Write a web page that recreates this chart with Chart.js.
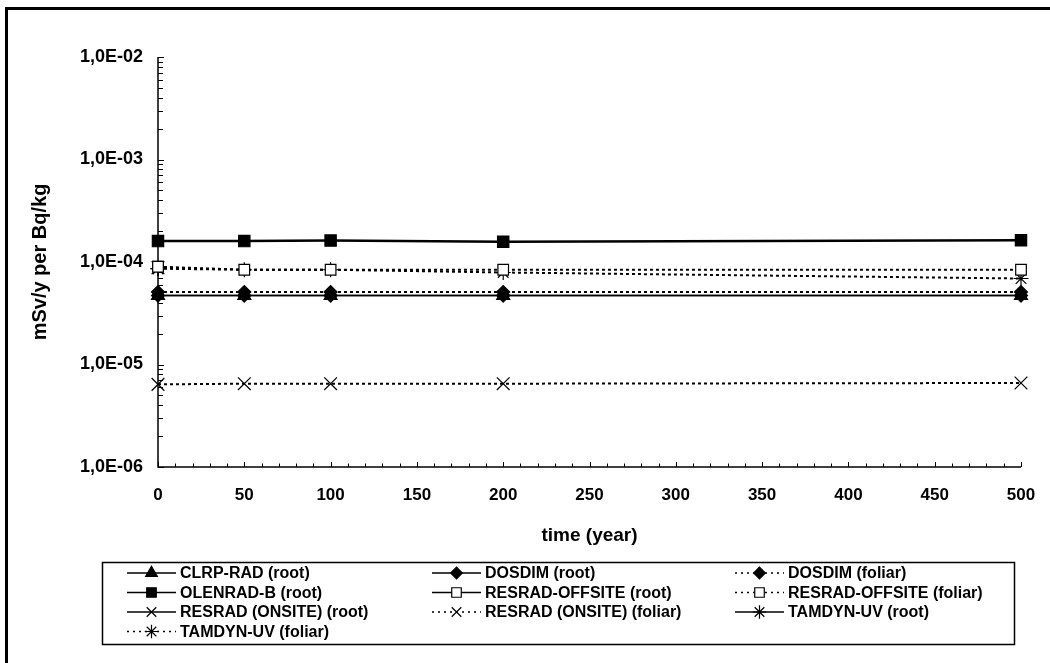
<!DOCTYPE html>
<html>
<head>
<meta charset="utf-8">
<script src="https://cdn.jsdelivr.net/npm/chart.js@4/dist/chart.umd.min.js"></script>
<style>
  html, body { margin: 0; padding: 0; background: #fff; }
  #wrap { width: 1050px; height: 663px; }
</style>
</head>
<body>
<div id="wrap"><canvas id="c" width="1050" height="663"></canvas></div>
<script>
// Sampling times (years)
const times = [0, 50, 100, 200, 500];

// Dose conversion per model and pathway (mSv/y per Bq/kg)
const clrpRoot       = [4.7e-5, 4.7e-5, 4.7e-5, 4.7e-5, 4.7e-5];
const dosdimRoot     = [4.7e-5, 4.7e-5, 4.7e-5, 4.7e-5, 4.7e-5];
const dosdimFoliar   = [5.1e-5, 5.1e-5, 5.1e-5, 5.1e-5, 5.1e-5];
const olenradRoot    = [1.60e-4, 1.60e-4, 1.62e-4, 1.58e-4, 1.63e-4];
const offsiteRoot    = [9.0e-5, null, null, null, null];
const offsiteFoliar  = [9.0e-5, 8.4e-5, 8.4e-5, 8.4e-5, 8.4e-5];
const onsiteRoot     = [8.8e-5, null, null, null, null];
const onsiteFoliar   = [6.4e-6, 6.5e-6, 6.5e-6, 6.5e-6, 6.6e-6];
const tamdynRoot     = [8.6e-5, null, null, null, null];
const tamdynFoliar   = [8.6e-5, 8.4e-5, 8.4e-5, 7.9e-5, 6.9e-5];

// Y axis decades
const yDecades = [1e-6, 1e-5, 1e-4, 1e-3, 1e-2];

const seriesLabels = [
  'CLRP-RAD (root)', 'DOSDIM (root)', 'DOSDIM (foliar)',
  'OLENRAD-B (root)', 'RESRAD-OFFSITE (root)', 'RESRAD-OFFSITE (foliar)',
  'RESRAD (ONSITE) (root)', 'RESRAD (ONSITE) (foliar)', 'TAMDYN-UV (root)',
  'TAMDYN-UV (foliar)'
];
const seriesValues = [
  clrpRoot, dosdimRoot, dosdimFoliar,
  olenradRoot, offsiteRoot, offsiteFoliar,
  onsiteRoot, onsiteFoliar, tamdynRoot,
  tamdynFoliar
];

const DOT = [3, 3];
const FONT = '"Liberation Sans", Arial, sans-serif';
const styles = [
  { pointStyle: 'triangle', radius: 7.5, fill: '#000', dash: [], width: 1.5 },
  { pointStyle: 'rectRot',  radius: 6.5, fill: '#000', dash: [], width: 1.5 },
  { pointStyle: 'rectRot',  radius: 6.5, fill: '#000', dash: DOT, width: 2 },
  { pointStyle: 'rect',     radius: 8, fill: '#000', dash: [], width: 2.5 },
  { pointStyle: 'rect',     radius: 7.5, fill: '#fff', dash: [], width: 1.5 },
  { pointStyle: 'rect',     radius: 7.5, fill: '#fff', dash: DOT, width: 2 },
  { pointStyle: 'crossRot', radius: 9, fill: '#000', dash: [], width: 1.5 },
  { pointStyle: 'crossRot', radius: 9, fill: '#000', dash: DOT, width: 2 },
  { pointStyle: 'star',     radius: 7.5, fill: '#000', dash: [], width: 1.5 },
  { pointStyle: 'star',     radius: 7.5, fill: '#000', dash: DOT, width: 2 }
];

const datasets = seriesLabels.map((label, i) => {
  const s = styles[i];
  return {
    label,
    data: times.map((t, k) => ({ x: t, y: seriesValues[i][k] })),
    borderColor: '#000',
    backgroundColor: s.fill,
    borderWidth: s.width,
    borderDash: s.dash,
    pointStyle: s.pointStyle,
    pointRadius: s.radius,
    pointHoverRadius: s.radius,
    pointBackgroundColor: s.fill,
    pointBorderColor: '#000',
    pointBorderWidth: 1.2,
    tension: 0,
    spanGaps: false,
    clip: false
  };
});

function sciLabel(v) {
  const e = Math.round(Math.log10(v));
  const sign = e < 0 ? '-' : '+';
  return '1,0E' + sign + String(Math.abs(e)).padStart(2, '0');
}

function drawMarker(ctx, style, radius, x, y, fill) {
  ctx.save();
  ctx.fillStyle = fill;
  ctx.strokeStyle = '#000';
  ctx.lineWidth = 1.2;
  ctx.setLineDash([]);
  if (Chart.helpers && Chart.helpers.drawPoint) {
    Chart.helpers.drawPoint(ctx, { pointStyle: style, radius: radius, rotation: 0, borderWidth: 1.2 }, x, y);
  }
  ctx.restore();
}

// Axis lines and inward tick marks
const axesPlugin = {
  id: 'axesTicks',
  beforeDatasetsDraw(chart) {
    const { ctx, chartArea: a, scales } = chart;
    const xs = scales.x, ys = scales.y;
    ctx.save();
    ctx.strokeStyle = '#000';
    ctx.lineWidth = 1.5;
    ctx.beginPath();
    ctx.moveTo(a.left, a.top);
    ctx.lineTo(a.left, a.bottom);
    ctx.lineTo(a.right, a.bottom);
    ctx.stroke();
    ctx.lineWidth = 1;
    ctx.beginPath();
    for (let t = 0; t <= 500; t += 10) {
      const px = Math.round(xs.getPixelForValue(t)) + 0.5;
      const len = t % 50 === 0 ? 5 : 3.5;
      ctx.moveTo(px, a.bottom);
      ctx.lineTo(px, a.bottom - len);
    }
    for (let i = 0; i < yDecades.length; i++) {
      const d = yDecades[i];
      const py = Math.round(ys.getPixelForValue(d)) + 0.5;
      ctx.moveTo(a.left, py);
      ctx.lineTo(a.left + 6, py);
      if (i < yDecades.length - 1) {
        for (let m = 2; m <= 9; m++) {
          const pm = Math.round(ys.getPixelForValue(m * d)) + 0.5;
          ctx.moveTo(a.left, pm);
          ctx.lineTo(a.left + 5, pm);
        }
      }
    }
    ctx.stroke();
    ctx.restore();
  }
};

// Boxed three-column key and outer frame
const keyPlugin = {
  id: 'boxKey',
  afterDraw(chart) {
    const { ctx } = chart;
    ctx.save();
    ctx.strokeStyle = '#000';
    ctx.lineWidth = 3;
    ctx.strokeRect(6.5, 8.5, 1200, 800);

    ctx.lineWidth = 1.5;
    ctx.strokeRect(102.5, 562.5, 912, 82);

    const colX = [127, 432, 735];
    const rowY = [573, 592.5, 612, 631.5];
    ctx.font = 'bold 16px ' + FONT;
    ctx.textBaseline = 'middle';
    ctx.fillStyle = '#000';
    chart.data.datasets.forEach((ds, i) => {
      const x0 = colX[i % 3];
      const y = rowY[Math.floor(i / 3)];
      ctx.save();
      ctx.strokeStyle = '#000';
      ctx.lineWidth = 1.5;
      ctx.setLineDash(ds.borderDash.length ? [2, 4] : []);
      ctx.beginPath();
      ctx.moveTo(x0, y);
      ctx.lineTo(x0 + 49, y);
      ctx.stroke();
      ctx.restore();
      const r = Math.min(ds.pointRadius, 7.5) * 0.9;
      drawMarker(ctx, ds.pointStyle, r, x0 + 24.5, y, ds.pointBackgroundColor);
      ctx.fillStyle = '#000';
      ctx.fillText(ds.label, x0 + 53, y + 1);
    });
    ctx.restore();
  }
};

new Chart(document.getElementById('c'), {
  type: 'line',
  data: { datasets },
  options: {
    responsive: false,
    animation: false,
    events: [],
    layout: { padding: { left: 0, top: 57, right: 29, bottom: 116 } },
    plugins: { legend: { display: false }, tooltip: { enabled: false } },
    scales: {
      x: {
        type: 'linear',
        min: 0,
        max: 500,
        afterFit(scale) { scale.height = 80; scale.paddingLeft = 0; scale.paddingRight = 0; },
        ticks: {
          stepSize: 50,
          color: '#000',
          padding: 18,
          maxRotation: 0,
          font: { family: FONT, size: 17, weight: 'bold' }
        },
        grid: { display: false, drawTicks: false },
        border: { display: false },
        title: {
          display: true,
          text: 'time (year)',
          color: '#000',
          padding: { top: 0, bottom: 0 },
          font: { family: FONT, size: 19, weight: 'bold' }
        }
      },
      y: {
        type: 'logarithmic',
        min: 1e-6,
        max: 1e-2,
        afterFit(scale) { scale.width = 158; scale.paddingTop = 0; scale.paddingBottom = 0; },
        afterBuildTicks(scale) { scale.ticks = yDecades.map(v => ({ value: v, major: true })); },
        ticks: {
          color: '#000',
          padding: 15,
          callback: v => sciLabel(v),
          font: { family: FONT, size: 18, weight: 'bold' }
        },
        grid: { display: false, drawTicks: false },
        border: { display: false },
        title: {
          display: true,
          text: 'mSv/y per Bq/kg',
          color: '#000',
          padding: { top: 28, bottom: 0 },
          font: { family: FONT, size: 20, weight: 'bold' }
        }
      }
    }
  },
  plugins: [axesPlugin, keyPlugin]
});
</script>
</body>
</html>
